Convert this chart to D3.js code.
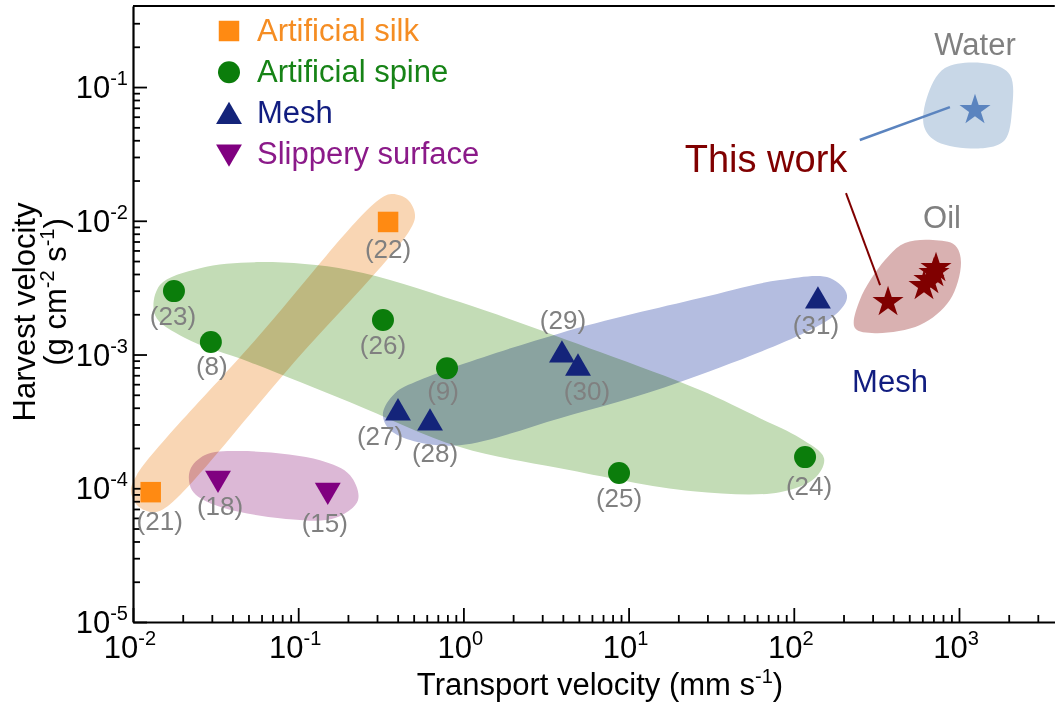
<!DOCTYPE html>
<html>
<head>
<meta charset="utf-8">
<script src="https://cdn.jsdelivr.net/npm/d3@7"></script>
<style>
  html, body { margin: 0; padding: 0; background: #ffffff; }
  svg { display: block; font-family: "Liberation Sans", Arial, Helvetica, sans-serif; }
  .zone { mix-blend-mode: multiply; }
</style>
</head>
<body>
<svg id="chart" width="1055" height="708"></svg>
<script>
// ---- data: transport velocity (mm/s) vs harvest velocity (g cm^-2 s^-1) ----
const silkTransport = [0.0128, 0.35];
const silkHarvest   = [9.35e-5, 0.0098];
const silkRefs      = ["(21)", "(22)"];

const spineTransport = [0.0177, 0.0296, 0.326, 0.796, 8.75, 117];
const spineHarvest   = [2.98e-3, 1.24e-3, 1.81e-3, 7.9e-4, 1.30e-4, 1.71e-4];
const spineRefs      = ["(23)", "(8)", "(26)", "(9)", "(25)", "(24)"];

const meshTransport = [0.402, 0.628, 3.95, 4.94, 140];
const meshHarvest   = [3.65e-4, 3.07e-4, 9.9e-4, 7.9e-4, 2.51e-3];
const meshRefs      = ["(27)", "(28)", "(29)", "(30)", "(31)"];

const slipperyTransport = [0.0327, 0.151];
const slipperyHarvest   = [1.19e-4, 9.68e-5];
const slipperyRefs      = ["(18)", "(15)"];

const waterTransport = [1250];
const waterHarvest   = [0.0673];
const oilTransport   = [372, 614, 658, 706, 726];
const oilHarvest     = [2.47e-3, 3.25e-3, 3.6e-3, 4.06e-3, 4.43e-3];

const legendLabels = ["Artificial silk", "Artificial spine", "Mesh", "Slippery surface"];
const xTickExps = [-2, -1, 0, 1, 2, 3];
const yTickExps = [-5, -4, -3, -2, -1];

// shaded group outlines, as [log10 transport, log10 harvest]
const silkZone = [[-0.338,-1.841],[-0.293,-1.954],[-0.326,-2.073],[-1.053,-3.098],[-1.779,-4.123],
  [-1.870,-4.179],[-1.967,-4.137],[-2.012,-4.025],[-1.979,-3.906],[-1.252,-2.881],[-0.526,-1.856],[-0.435,-1.800]];
const spineZone = [[-1.867,-2.705],[-1.837,-2.481],[-1.594,-2.354],[-1.231,-2.309],[-0.686,-2.369],
  [-0.021,-2.608],[0.827,-2.982],[1.432,-3.266],[1.795,-3.476],[2.037,-3.625],[2.183,-3.775],
  [2.128,-3.924],[1.916,-4.029],[1.390,-4.022],[0.585,-3.850],[-0.021,-3.692],[-0.686,-3.356],
  [-1.292,-3.057],[-1.685,-2.877]];
const meshZone = [[-0.487,-3.438],[-0.414,-3.289],[-0.263,-3.191],[0.585,-2.840],[1.432,-2.578],
  [1.916,-2.443],[2.219,-2.428],[2.322,-2.556],[2.249,-2.705],[1.311,-3.206],[0.585,-3.476],
  [-0.021,-3.678],[-0.323,-3.640],[-0.456,-3.550]];
const slipperyZone = [[-1.655,-3.865],[-1.564,-3.752],[-1.352,-3.722],[-0.868,-3.790],[-0.686,-3.902],
  [-0.638,-4.089],[-0.777,-4.223],[-1.050,-4.231],[-1.504,-4.126],[-1.643,-4.014]];
const oilZone = [[2.842,-2.144],[2.976,-2.182],[3.012,-2.309],[2.945,-2.593],[2.764,-2.780],
  [2.491,-2.840],[2.370,-2.802],[2.400,-2.593],[2.552,-2.294],[2.673,-2.167]];
const waterZone = [[2.915,-0.858],[3.188,-0.828],[3.309,-0.910],[3.321,-1.172],[3.278,-1.396],
  [3.157,-1.456],[2.870,-1.410],[2.790,-1.300],[2.805,-1.082]];

// leader lines from the "This work" caption, [transport, harvest] end points
const waterLeader = [[251, 0.0402], [881, 0.0708]];
const oilLeader   = [[207, 0.0161], [333, 0.0033]];

// ---- layout ----
const svg = d3.select("#chart");
const x = d3.scaleLog().domain([1e-2, Math.pow(10, 3.58)]).range([133, 1054.8]);
const y = d3.scaleLog().domain([1e-5, Math.pow(10, -0.394)]).range([622, 6]);

const grey = "#808080";
const colors = {
  silk: "#ff8a12", silkText: "#f58d23",
  spine: "#0b7d0b", spineText: "#168316",
  mesh: "#14247a", meshText: "#111d80",
  slip: "#800080", slipText: "#8b1a89",
  oil: "#800000", water: "#5b84bf"
};

// shaded zones
const zoneLine = d3.line()
  .x(d => x(Math.pow(10, d[0])))
  .y(d => y(Math.pow(10, d[1])))
  .curve(d3.curveCatmullRomClosed.alpha(0.5));

const zones = [
  { pts: silkZone, fill: "#f9d6b4" },
  { pts: spineZone, fill: "#c3dcb6" },
  { pts: meshZone, fill: "#b4bde0" },
  { pts: slipperyZone, fill: "#dcb8d6" },
  { pts: oilZone, fill: "#d9b1b1" },
  { pts: waterZone, fill: "#c8d7e7" }
];
svg.append("g").selectAll("path").data(zones).join("path")
  .attr("class", "zone")
  .attr("d", d => zoneLine(d.pts))
  .attr("fill", d => d.fill);

// axes
const xMinor = [], yMinor = [];
xTickExps.forEach(e => { for (let k = 2; k <= 9; k++) { const v = k * Math.pow(10, e); if (v <= x.domain()[1]) xMinor.push(v); } });
yTickExps.forEach(e => { for (let k = 2; k <= 9; k++) { const v = k * Math.pow(10, e); if (v < y.domain()[1] * 0.98) yMinor.push(v); } });
const xMajor = xTickExps.map(e => Math.pow(10, e));
const yMajor = yTickExps.map(e => Math.pow(10, e));

function styleAxis(g, keepDomain) {
  g.selectAll(".tick line").attr("stroke", "#000").attr("stroke-width", 1.8);
  g.select(".domain").attr("stroke", keepDomain ? "#000" : "none").attr("stroke-width", 2.2);
}
const x0 = y.range()[0];
svg.append("g").attr("transform", `translate(0,${x0})`)
  .call(d3.axisBottom(x).tickValues(xMinor).tickSize(-7).tickSizeOuter(0).tickFormat(""))
  .call(g => styleAxis(g, true));
svg.append("g").attr("transform", `translate(0,${x0})`)
  .call(d3.axisBottom(x).tickValues(xMajor).tickSize(-14).tickSizeOuter(0).tickFormat(""))
  .call(g => styleAxis(g, false));
const y0 = x.range()[0];
svg.append("g").attr("transform", `translate(${y0},0)`)
  .call(d3.axisLeft(y).tickValues(yMinor).tickSize(-7).tickSizeOuter(0).tickFormat(""))
  .call(g => styleAxis(g, true));
svg.append("g").attr("transform", `translate(${y0},0)`)
  .call(d3.axisLeft(y).tickValues(yMajor).tickSize(-14).tickSizeOuter(0).tickFormat(""))
  .call(g => styleAxis(g, false));
// top frame line
svg.append("line")
  .attr("x1", x.range()[0]).attr("x2", x.range()[1])
  .attr("y1", y.range()[1]).attr("y2", y.range()[1])
  .attr("stroke", "#000").attr("stroke-width", 2.2);

// power-of-ten tick labels
function powLabel(sel, exp) {
  sel.append("tspan").text("10");
  sel.append("tspan").attr("dy", -13).attr("font-size", 20).text(exp);
}
xTickExps.forEach(e => {
  const t = svg.append("text").attr("x", x(Math.pow(10, e)) - 3).attr("y", 658)
    .attr("text-anchor", "middle").attr("font-size", 31).attr("fill", "#000");
  powLabel(t, e);
});
yTickExps.forEach(e => {
  const t = svg.append("text").attr("x", 128).attr("y", y(Math.pow(10, e)) + 11)
    .attr("text-anchor", "end").attr("font-size", 31).attr("fill", "#000");
  powLabel(t, e);
});

// axis titles
const xt = svg.append("text").attr("x", 600).attr("y", 695).attr("text-anchor", "middle")
  .attr("font-size", 31).attr("fill", "#000");
xt.append("tspan").text("Transport velocity (mm s");
xt.append("tspan").attr("dy", -12).attr("font-size", 20).text("-1");
xt.append("tspan").attr("dy", 12).text(")");

svg.append("text").attr("transform", "translate(35,312) rotate(-90)")
  .attr("text-anchor", "middle").attr("font-size", 31).attr("fill", "#000")
  .text("Harvest velocity");
const yt2 = svg.append("text").attr("transform", "translate(66,292) rotate(-90)")
  .attr("text-anchor", "middle").attr("font-size", 31).attr("fill", "#000");
yt2.append("tspan").text("(g cm");
yt2.append("tspan").attr("dy", -12).attr("font-size", 20).text("-2");
yt2.append("tspan").attr("dy", 12).text(" s");
yt2.append("tspan").attr("dy", -12).attr("font-size", 20).text("-1");
yt2.append("tspan").attr("dy", 12).text(")");

// markers
const sym = {
  silk: d3.symbol(d3.symbolSquare, 420),
  spine: d3.symbol(d3.symbolCircle, 380),
  mesh: d3.symbol(d3.symbolTriangle, 290),
  slip: d3.symbol(d3.symbolTriangle, 290),
  star: d3.symbol(d3.symbolStar, 300)
};
const groups = [
  { xs: silkTransport, ys: silkHarvest, refs: silkRefs, s: sym.silk, c: colors.silk, rot: 0 },
  { xs: spineTransport, ys: spineHarvest, refs: spineRefs, s: sym.spine, c: colors.spine, rot: 0 },
  { xs: meshTransport, ys: meshHarvest, refs: meshRefs, s: sym.mesh, c: colors.mesh, rot: 0 },
  { xs: slipperyTransport, ys: slipperyHarvest, refs: slipperyRefs, s: sym.slip, c: colors.slip, rot: 180 },
  { xs: oilTransport, ys: oilHarvest, refs: [], s: sym.star, c: colors.oil, rot: 0 },
  { xs: waterTransport, ys: waterHarvest, refs: [], s: sym.star, c: colors.water, rot: 0 }
];

// reference-number placement (offset of label baseline from the marker)
const labelNudge = {
  "(21)": [9, 38], "(22)": [0, 36], "(23)": [-1, 34], "(8)": [1, 33], "(26)": [0, 34],
  "(9)": [-4, 32], "(25)": [0, 34], "(24)": [4, 38], "(27)": [-18, 32], "(28)": [5, 39],
  "(29)": [1, -26], "(30)": [9, 32], "(31)": [-2, 33], "(18)": [2, 37], "(15)": [-3, 42]
};

groups.forEach(g => {
  const pts = g.xs.map((v, i) => ({ tx: v, hv: g.ys[i], ref: g.refs[i] }));
  svg.append("g").selectAll("path").data(pts).join("path")
    .attr("d", g.s())
    .attr("transform", d => `translate(${x(d.tx)},${y(d.hv)}) rotate(${g.rot})`)
    .attr("fill", g.c);
  svg.append("g").selectAll("text").data(pts.filter(d => d.ref)).join("text")
    .attr("x", d => x(d.tx) + labelNudge[d.ref][0])
    .attr("y", d => y(d.hv) + labelNudge[d.ref][1])
    .attr("text-anchor", "middle").attr("font-size", 26).attr("fill", grey)
    .text(d => d.ref);
});

// leader lines
const lead = d3.line().x(d => x(d[0])).y(d => y(d[1]));
svg.append("path").attr("d", lead(waterLeader)).attr("stroke", colors.water)
  .attr("stroke-width", 2.5).attr("fill", "none");
svg.append("path").attr("d", lead(oilLeader)).attr("stroke", colors.oil)
  .attr("stroke-width", 2).attr("fill", "none");

// annotations
svg.append("text").attr("x", 975).attr("y", 55).attr("text-anchor", "middle")
  .attr("font-size", 31).attr("fill", grey).text("Water");
svg.append("text").attr("x", 942).attr("y", 228).attr("text-anchor", "middle")
  .attr("font-size", 31).attr("fill", grey).text("Oil");
svg.append("text").attr("x", 766).attr("y", 172).attr("text-anchor", "middle")
  .attr("font-size", 38).attr("fill", colors.oil).text("This work");
svg.append("text").attr("x", 890).attr("y", 392).attr("text-anchor", "middle")
  .attr("font-size", 31).attr("fill", colors.meshText).text("Mesh");

// legend
const legendMarks = [
  { s: sym.silk, c: colors.silk, tc: colors.silkText, rot: 0, dy: 0 },
  { s: sym.spine, c: colors.spine, tc: colors.spineText, rot: 0, dy: 0 },
  { s: sym.mesh, c: colors.mesh, tc: colors.meshText, rot: 0, dy: 3 },
  { s: sym.slip, c: colors.slip, tc: colors.slipText, rot: 180, dy: -3 }
];
const legend = svg.append("g");
legendLabels.forEach((lab, i) => {
  const m = legendMarks[i];
  const cy = 31 + i * 41.3;
  legend.append("path").attr("d", m.s())
    .attr("transform", `translate(229,${cy + m.dy}) rotate(${m.rot})`)
    .attr("fill", m.c);
  legend.append("text").attr("x", 257).attr("y", cy + 9.5)
    .attr("font-size", 31).attr("fill", m.tc).text(lab);
});
</script>
</body>
</html>
